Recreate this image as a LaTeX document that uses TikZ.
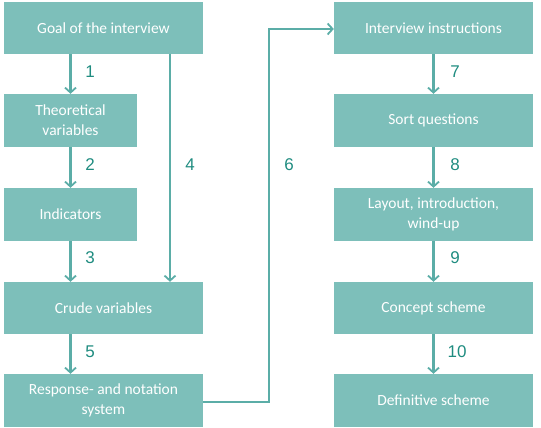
\documentclass[tikz,border=0pt]{standalone}
\usepackage{fontspec}
\setmainfont{Carlito}
\newfontfamily\labfont{Liberation Sans}
\usetikzlibrary{arrows.meta}
\definecolor{boxfill}{HTML}{7DBFBA}
\definecolor{arrowc}{HTML}{5BADA7}
\definecolor{labc}{HTML}{1F8C80}
\tikzset{
  box/.style={fill=boxfill, draw=none, text=white, align=center, font=\fontsize{15.5}{20}\selectfont, inner sep=0pt},
  conn/.style={draw=arrowc, line width=2.2pt, -{Straight Barb[length=5pt,width=11pt,line width=1.8pt]}},
  lab/.style={text=labc, font=\labfont\fontsize{17}{19}\selectfont, inner sep=0pt}
}
\begin{document}
\begin{tikzpicture}[x=1pt,y=-1pt]
\useasboundingbox (0,0) rectangle (541,428);
% left column
\node[box, minimum width=199pt, minimum height=52pt] (goal) at (103.5,28) {Goal of the interview};
\node[box, minimum width=133pt, minimum height=53pt] (theo) at (70.5,120.5) {Theoretical\\variables};
\node[box, minimum width=133pt, minimum height=53pt] (ind) at (70.5,214.5) {Indicators};
\node[box, minimum width=199pt, minimum height=52pt] (crude) at (103.5,308) {Crude variables};
\node[box, minimum width=199pt, minimum height=53pt] (resp) at (103.5,400.5) {Response- and notation\\system};
% right column
\node[box, minimum width=199pt, minimum height=52pt] (instr) at (433.5,28) {Interview instructions};
\node[box, minimum width=199pt, minimum height=53pt] (sort) at (433.5,120.5) {Sort questions};
\node[box, minimum width=199pt, minimum height=53pt] (layout) at (433.5,214.5) {Layout, introduction,\\wind-up};
\node[box, minimum width=199pt, minimum height=52pt] (concept) at (433.5,308) {Concept scheme};
\node[box, minimum width=199pt, minimum height=53pt] (defin) at (433.5,400.5) {Definitive scheme};
% connectors
\draw[conn] (goal.south -| theo.north) -- (theo.north);
\draw[conn] (theo) -- (ind);
\draw[conn] (ind) -- (ind |- crude.north);
\draw[conn] (crude.south -| theo.south) -- (resp.north -| theo.south);
\coordinate (c4a) at (170,54);
\draw[conn] (c4a) -- (c4a |- crude.north);
\coordinate (c6a) at (269,402);
\coordinate (c6b) at (269,29);
\draw[conn] (resp.east |- c6a) -- (c6a) -- (c6b) -- (instr.west |- c6b);
\draw[conn] (instr) -- (sort);
\draw[conn] (sort) -- (layout);
\draw[conn] (layout) -- (concept);
\draw[conn] (concept) -- (defin);
% labels
\node[lab] (l1) at (90,72) {1};
\node[lab] (l2) at (90,165) {2};
\node[lab] (l3) at (90,258) {3};
\node[lab] (l4) at (190,165) {4};
\node[lab] (l5) at (90,352) {5};
\node[lab] (l6) at (289,165) {6};
\node[lab] (l7) at (455,72) {7};
\node[lab] (l8) at (455,165) {8};
\node[lab] (l9) at (455,258) {9};
\node[lab] (l10) at (457,352) {10};
\end{tikzpicture}
\end{document}
